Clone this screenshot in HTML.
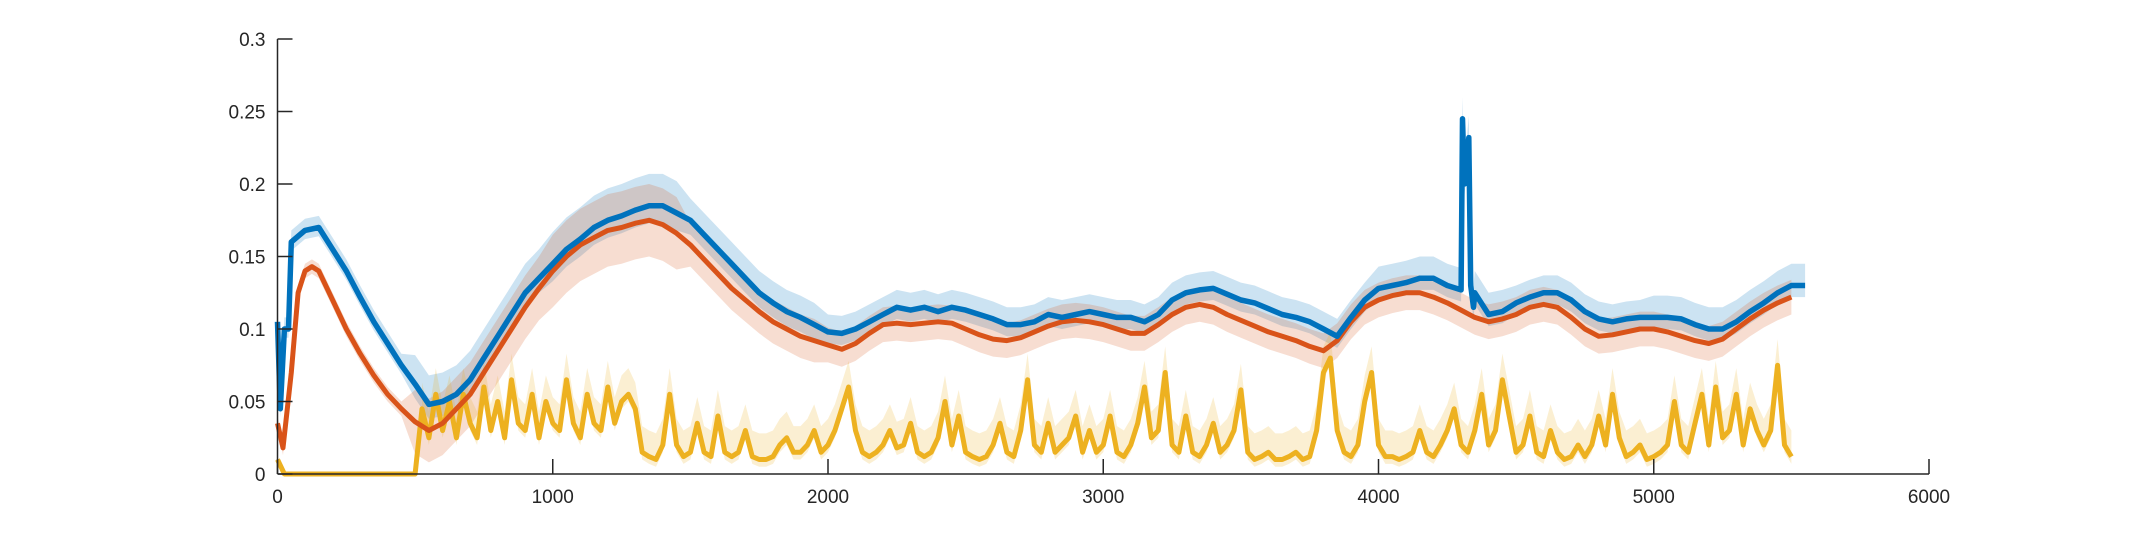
<!DOCTYPE html>
<html><head><meta charset="utf-8"><style>
html,body{margin:0;padding:0;background:#fff}
svg{display:block}
text{font-family:"Liberation Sans",sans-serif;font-size:19px;fill:#262626}
</style></head><body>
<svg id="chart" width="2133" height="533" viewBox="0 0 2133 533" xmlns="http://www.w3.org/2000/svg">
<g id="bands"></g>
<g id="lines"></g>
<g id="axes"></g>
</svg>
<script>
const xTicks=[0,1000,2000,3000,4000,5000,6000];
const yTicks=[0,0.05,0.1,0.15,0.2,0.25,0.3];
const yTickLabels=["0","0.05","0.1","0.15","0.2","0.25","0.3"];
const blueStep=50;
const blueY=[0.105,0.16,0.168,0.17,0.155,0.14,0.122,0.105,0.09,0.075,0.062,0.048,0.05,0.055,0.065,0.08,0.095,0.11,0.125,0.135,0.145,0.155,0.162,0.17,0.175,0.178,0.182,0.185,0.185,0.18,0.175,0.165,0.155,0.145,0.135,0.125,0.118,0.112,0.108,0.103,0.098,0.097,0.1,0.105,0.11,0.115,0.113,0.115,0.112,0.115,0.113,0.11,0.107,0.103,0.103,0.105,0.11,0.108,0.11,0.112,0.11,0.108,0.108,0.105,0.11,0.12,0.125,0.127,0.128,0.124,0.12,0.118,0.114,0.11,0.108,0.105,0.1,0.095,0.108,0.12,0.128,0.13,0.132,0.135,0.135,0.13,0.127,0.125,0.11,0.112,0.118,0.122,0.125,0.125,0.12,0.112,0.107,0.105,0.107,0.108,0.108,0.108,0.107,0.103,0.1,0.1,0.105,0.112,0.118,0.125,0.13,0.13];
const blueEarlyX=[10,25,40];
const blueEarlyY=[0.045,0.1,0.1];
const blueSpikeX=[4305,4312,4320,4328,4335,4345];
const blueSpikeY=[0.245,0.2,0.215,0.232,0.13,0.115];
const redStep=50;
const redY=[0.035,0.07,0.14,0.14,0.12,0.1,0.083,0.068,0.055,0.045,0.036,0.03,0.035,0.045,0.055,0.07,0.085,0.1,0.115,0.128,0.14,0.15,0.158,0.163,0.168,0.17,0.173,0.175,0.172,0.166,0.158,0.148,0.138,0.128,0.12,0.112,0.105,0.1,0.095,0.092,0.089,0.086,0.09,0.097,0.103,0.104,0.103,0.104,0.105,0.104,0.1,0.096,0.093,0.092,0.094,0.098,0.102,0.105,0.106,0.105,0.103,0.1,0.097,0.097,0.103,0.11,0.115,0.117,0.115,0.11,0.106,0.102,0.098,0.095,0.092,0.088,0.085,0.092,0.105,0.115,0.12,0.123,0.125,0.125,0.122,0.118,0.113,0.108,0.105,0.107,0.11,0.115,0.117,0.115,0.108,0.1,0.095,0.096,0.098,0.1,0.1,0.098,0.095,0.092,0.09,0.093,0.1,0.107,0.113,0.118,0.122];
const redEarlyX=[20,75,125];
const redEarlyY=[0.018,0.125,0.143];
const blueBandUp=[0.008,0.02,0.022,0.015,0.012,0.012,0.012,0.012,0.015,0.012,0.015,0.015];
const blueBandDown=[0.006,0.01,0.012,0.01,0.008,0.008,0.008,0.008,0.008,0.008,0.008,0.008];
const redBand=[0.005,0.022,0.025,0.015,0.012,0.012,0.012,0.012,0.012,0.012,0.012,0.012];
const yellowStep=25;
const yellowY=[0.01,0,0,0,0,0,0,0,0,0,0,0,0,0,0,0,0,0,0,0,0,
0.045,0.025,0.055,0.03,0.05,0.025,0.055,0.035,0.025,0.06,0.03,0.05,0.025,0.065,0.035,0.03,0.055,0.025,0.05,0.035,0.03,0.065,0.035,0.025,0.055,0.035,0.03,0.06,0.035,0.05,0.055,0.045,
0.015,0.012,0.01,0.02,0.055,0.02,0.012,0.015,0.035,0.015,0.012,0.04,0.015,0.012,0.015,0.03,0.012,0.01,0.01,0.012,0.02,0.025,0.015,0.015,0.02,0.03,0.015,0.02,0.03,0.045,0.06,0.03,0.015,0.012,0.015,0.02,0.03,0.018,0.02,0.035,0.015,0.012,0.015,0.025,0.05,0.02,0.04,0.015,0.012,0.01,0.012,0.02,0.035,0.015,0.012,0.03,0.065,0.02,0.015,0.035,0.015,0.02,0.025,0.04,0.015,0.03,0.015,0.02,0.04,0.015,0.012,0.02,0.035,0.06,0.025,0.03,0.07,0.02,0.015,0.04,0.015,0.012,0.02,0.035,0.015,0.02,0.03,0.058,0.015,0.01,0.012,0.015,0.01,0.01,0.012,0.015,0.01,0.012,0.03,0.07,0.08,0.03,0.015,0.012,0.02,0.05,0.07,0.02,0.012,0.012,0.01,0.012,0.015,0.03,0.015,0.012,0.02,0.03,0.045,0.02,0.015,0.03,0.055,0.02,0.03,0.065,0.04,0.015,0.02,0.04,0.015,0.012,0.03,0.015,0.01,0.012,0.02,0.012,0.02,0.04,0.02,0.055,0.025,0.012,0.015,0.02,0.01,0.012,0.015,0.02,0.05,0.02,0.015,0.035,0.055,0.02,0.06,0.025,0.03,0.055,0.02,0.045,0.03,0.02,0.03,0.075,0.02,0.012];
const yellowBand=0.018;

const X0=277.5,XS=275.25/1000,Y0=474,YS=1450;
const sx=v=>X0+v*XS, sy=v=>Y0-v*YS;
const NS="http://www.w3.org/2000/svg";
function mk(tag,attrs,parent){const e=document.createElementNS(NS,tag);for(const k in attrs)e.setAttribute(k,attrs[k]);parent.appendChild(e);return e;}
function merge(step,ys,ex,ey){const pts=ys.map((y,i)=>[i*step,y]).filter(p=>ex.indexOf(p[0])<0);ex.forEach((x,i)=>pts.push([x,ey[i]]));pts.sort((a,b)=>a[0]-b[0]);return pts;}
function pathOf(pts){return pts.map((p,i)=>(i?'L':'M')+sx(p[0]).toFixed(1)+','+sy(p[1]).toFixed(1)).join('');}
function bandPath(pts,up,down){const top=pts.map(p=>[p[0],p[1]+up(p[0])]);const bot=pts.map(p=>[p[0],p[1]-down(p[0])]).reverse();return pathOf(top)+pathOf(bot).replace('M','L')+'Z';}
const seg=(arr)=>x=>arr[Math.min(arr.length-1,Math.floor(x/500))];

const bluePts=merge(blueStep,blueY,blueEarlyX.concat(blueSpikeX),blueEarlyY.concat(blueSpikeY));
const redPts=merge(redStep,redY,redEarlyX,redEarlyY);
const yelPts=yellowY.map((y,i)=>[i*yellowStep,y]);
const bands=document.getElementById('bands'),lines=document.getElementById('lines'),axes=document.getElementById('axes');

let e=mk('path',{d:bandPath(bluePts,seg(blueBandUp),seg(blueBandDown)),fill:'#0072BD','fill-opacity':0.2},bands);


e=mk('path',{d:bandPath(redPts,seg(redBand),seg(redBand)),fill:'#D95319','fill-opacity':0.2},bands);


e=mk('path',{d:bandPath(yelPts.filter(p=>p[0]>500),()=>yellowBand,()=>0.005),fill:'#EDB120','fill-opacity':0.2},bands);



e=mk('path',{d:pathOf(yelPts),fill:'none',stroke:'#EDB120','stroke-width':5,'stroke-linejoin':'round'},lines);


e=mk('path',{d:pathOf(redPts),fill:'none',stroke:'#D95319','stroke-width':5,'stroke-linejoin':'round'},lines);


e=mk('path',{d:pathOf(bluePts),fill:'none',stroke:'#0072BD','stroke-width':5.5,'stroke-linejoin':'round'},lines);



e=mk('line',{x1:sx(0),y1:Y0,x2:sx(6000),y2:Y0,stroke:'#262626','stroke-width':1.5},axes);


e=mk('line',{x1:sx(0),y1:Y0,x2:sx(0),y2:sy(0.3),stroke:'#262626','stroke-width':1.5},axes);


xTicks.forEach(t=>{
  const l=mk('line',{x1:sx(t),y1:Y0,x2:sx(t),y2:Y0-15,stroke:'#262626','stroke-width':1.5},axes);
  
  
  const tx=mk('text',{x:sx(t),y:Y0+29,'text-anchor':'middle'},axes);tx.textContent=String(t);
  
  
});
yTicks.forEach((t,i)=>{
  const l=mk('line',{x1:sx(0),y1:sy(t),x2:sx(0)+15,y2:sy(t),stroke:'#262626','stroke-width':1.5},axes);
  
  
  const tx=mk('text',{x:sx(0)-12,y:sy(t)+7,'text-anchor':'end'},axes);tx.textContent=yTickLabels[i];
  
  
});
</script>
</body></html>
